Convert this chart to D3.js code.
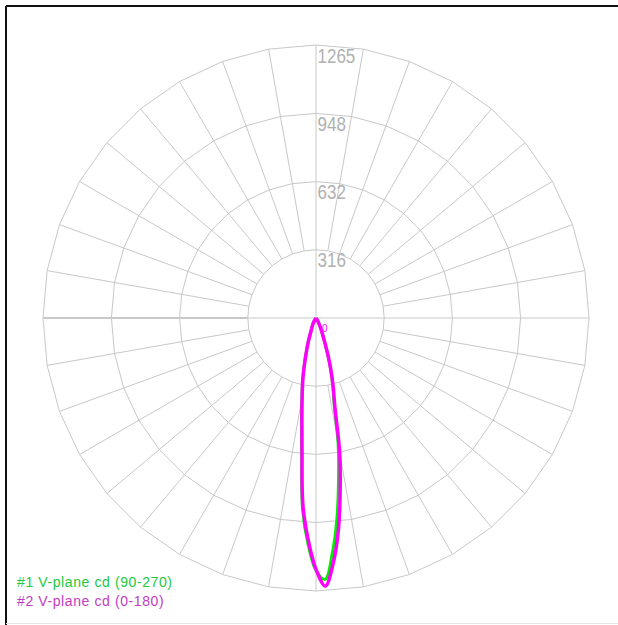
<!DOCTYPE html>
<html>
<head>
<meta charset="utf-8">
<script src="https://cdn.jsdelivr.net/npm/d3@7"></script>
<style>
  body { margin: 0; background: #fff; }
  svg { display: block; }
</style>
</head>
<body>
<svg id="chart" width="618" height="625"></svg>
<script>
// gamma angles from nadir (deg), positive = right side of the plot
const angles = [-34, -30, -26, -22, -18, -16, -14, -12, -10, -8, -6, -4, -2, 0,
                2, 4, 6, 8, 10, 12, 14, 16, 18, 22, 26, 30, 34];
// #1 V-plane cd (90-270)
const plane90 = [0, 20, 35, 55, 118, 162, 222, 298, 375, 480, 635, 890, 1050, 1170,
                 1212, 1090, 930, 750, 590, 405, 320, 245, 172, 78, 40, 20, 0];
// #2 V-plane cd (0-180)
const plane0 = [0, 20, 35, 55, 115, 160, 220, 295, 370, 470, 620, 870, 1030, 1165,
                1243, 1140, 990, 805, 630, 420, 330, 250, 175, 80, 40, 20, 0];
const ringValues = [316, 632, 948, 1265];
const seriesNames = ['#1 V-plane cd (90-270)', '#2 V-plane cd (0-180)'];
const seriesColors = ['#00ee00', '#ff00ff'];
const legendColors = ['#22c83c', '#c23cc2'];

const svg = d3.select('#chart');
const cx = 316, cy = 318, outerR = 273;
const r = d3.scaleLinear().domain([0, 1265]).range([0, outerR]);
const toRad = (deg) => Math.PI - deg * Math.PI / 180;

// frame
svg.append('line').attr('x1', 6).attr('y1', 6).attr('x2', 618).attr('y2', 6)
    .attr('stroke', '#111').attr('stroke-width', 2);
svg.append('line').attr('x1', 6).attr('y1', 6).attr('x2', 6).attr('y2', 625)
    .attr('stroke', '#111').attr('stroke-width', 2);
svg.append('line').attr('x1', 6).attr('y1', 623.5).attr('x2', 618).attr('y2', 623.5)
    .attr('stroke', '#e4e4e4').attr('stroke-width', 1);

const g = svg.append('g').attr('transform', `translate(${cx},${cy})`);
const gridColor = '#c8c8c8';

// rings drawn as 36-sided polygons
const spokeAngles = d3.range(0, 360, 10);
const ringLine = d3.lineRadial()
    .angle((d) => d[0] * Math.PI / 180)
    .radius((d) => d[1])
    .curve(d3.curveLinearClosed);
ringValues.forEach((v) => {
    g.append('path')
        .attr('d', ringLine(spokeAngles.map((a) => [a, r(v)])))
        .attr('fill', 'none')
        .attr('stroke', gridColor)
        .attr('stroke-width', 1);
});

// spokes every 10 degrees between inner ring and outer ring
spokeAngles.forEach((a) => {
    const t = a * Math.PI / 180;
    const axis = a % 90 === 0;
    const r0 = axis ? 0 : r(ringValues[0]);
    g.append('line')
        .attr('x1', r0 * Math.sin(t)).attr('y1', -r0 * Math.cos(t))
        .attr('x2', outerR * Math.sin(t)).attr('y2', -outerR * Math.cos(t))
        .attr('stroke', gridColor)
        .attr('stroke-width', 1);
});
g.append('line')
    .attr('x1', -r(ringValues[0])).attr('y1', 0).attr('x2', -outerR).attr('y2', 0)
    .attr('stroke', gridColor).attr('stroke-width', 2);

// ring labels (narrow look)
ringValues.forEach((v) => {
    g.append('text')
        .attr('transform', `translate(1.5,${-r(v) + 17.5}) scale(0.81,1)`)
        .attr('font-family', '"Liberation Sans", Arial, sans-serif')
        .attr('font-size', 21)
        .attr('fill', '#b0b0b0')
        .text(v);
});

// candela curves
const curve = d3.lineRadial()
    .angle((d) => toRad(d[0]))
    .radius((d) => r(d[1]))
    .curve(d3.curveCatmullRom.alpha(0.5));
[plane90, plane0].forEach((vals, i) => {
    g.append('path')
        .attr('d', curve(angles.map((a, k) => [a, vals[k]])))
        .attr('fill', 'none')
        .attr('stroke', seriesColors[i])
        .attr('stroke-width', i === 0 ? 3 : 3.5)
        .attr('stroke-linejoin', 'round');
});

g.append('text')
    .attr('x', 6).attr('y', 14)
    .attr('font-family', '"Liberation Sans", Arial, sans-serif')
    .attr('font-size', 10)
    .attr('fill', '#ff00ff')
    .text('0');

// legend
seriesNames.forEach((name, i) => {
    svg.append('text')
        .attr('x', 17)
        .attr('y', 587 + i * 18.5)
        .attr('font-family', '"Liberation Sans", Arial, sans-serif')
        .attr('font-size', 14)
        .attr('letter-spacing', 0.6)
        .attr('fill', legendColors[i])
        .text(name);
});
</script>
</body>
</html>
